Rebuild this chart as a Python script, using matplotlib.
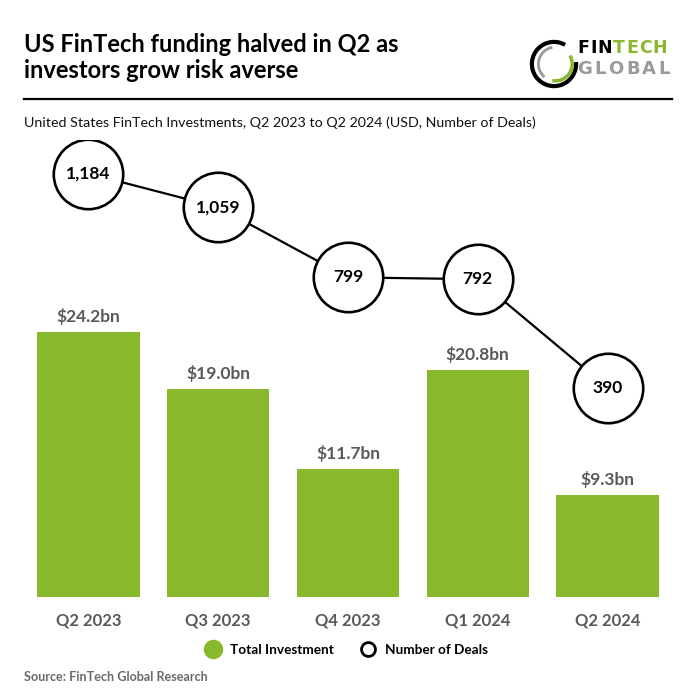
import matplotlib
matplotlib.use('Agg')
import matplotlib.pyplot as plt
from matplotlib.lines import Line2D
from matplotlib.patches import Arc

plt.rcParams['font.family'] = ['Lato', 'DejaVu Sans']

quarters = ['Q2 2023', 'Q3 2023', 'Q4 2023', 'Q1 2024', 'Q2 2024']
investment = [24.2, 19.0, 11.7, 20.8, 9.3]   # USD bn
deals = [1184, 1059, 799, 792, 390]

green = '#88b82b'
grey = '#595959'

W = H = 696
fig = plt.figure(figsize=(W / 100, H / 100), dpi=100, facecolor='white')
renderer = fig.canvas.get_renderer()

def fx(px):
    return px / W

def fy(py):
    return 1 - py / H

# main chart area, baseline at y=597px
ax = fig.add_axes([0, fy(597), 1, fy(140) - fy(597)])
x = list(range(len(quarters)))
ax.bar(x, investment, width=0.79, color=green, zorder=2)
ax.set_xlim(-0.682, 4.682)
ax.set_ylim(0, 41.8)
for s in ax.spines.values():
    s.set_visible(False)
ax.set_yticks([])
ax.set_xticks(x, quarters)
ax.tick_params(axis='x', length=0, pad=11, labelsize=12, labelcolor=grey)
for t in ax.get_xticklabels():
    t.set_fontweight('bold')
for xi, v in zip(x, investment):
    ax.annotate('$%.1fbn' % v, (xi, v), xytext=(0, 5), textcoords='offset points',
                ha='center', va='bottom', fontsize=12.5, fontweight='bold', color=grey)

# number of deals on a second scale
ax2 = ax.twinx()
ax2.set_ylim(-386.7, 1308.4)
ax2.set_yticks([])
for s in ax2.spines.values():
    s.set_visible(False)
ax2.plot(x, deals, color='black', lw=1.6, marker='o', markersize=50,
         mfc='white', mec='black', mew=1.9, zorder=3)
for xi, d in zip(x, deals):
    ax2.text(xi, d, f'{d:,}', ha='center', va='center', fontsize=12.5,
             fontweight='bold', color='black', zorder=4)

# title block
fig.text(fx(24), fy(52), 'US FinTech funding halved in Q2 as', fontsize=17,
         fontweight='bold', va='baseline', ha='left')
fig.text(fx(24), fy(78), 'investors grow risk averse', fontsize=17,
         fontweight='bold', va='baseline', ha='left')
fig.add_artist(Line2D([fx(24), fx(672)], [fy(99), fy(99)], color='black', lw=1.6))
fig.text(fx(24), fy(123), 'United States FinTech Investments, Q2 2023 to Q2 2024 (USD, Number of Deals)',
         fontsize=10.3, va='center', ha='left', color='#111111')

# logo
lax = fig.add_axes([fx(528), fy(90), fx(52), fx(52)])
lax.set_xlim(-1, 1)
lax.set_ylim(-1, 1)
lax.set_aspect('equal')
lax.axis('off')
lax.add_patch(Arc((0, 0), 1.7, 1.7, theta1=60, theta2=5, color='black', lw=3))
lax.add_patch(Arc((0.05, 0), 1.3, 1.3, theta1=-100, theta2=30, color=green, lw=2.5))
lax.add_patch(Arc((0.05, 0), 1.3, 1.3, theta1=100, theta2=230, color='#9a9a9a', lw=2))

def spaced(word, colors, xpx, ypx, size, gap):
    xx = xpx
    for ch, c in zip(word, colors):
        t = fig.text(fx(xx), fy(ypx), ch, fontsize=size, fontweight='bold',
                     family='DejaVu Sans', va='baseline', ha='left', color=c)
        xx += t.get_window_extent(renderer).width + gap

spaced('FINTECH', ['black'] * 3 + [green] * 4, 577, 53, 12.5, 1.0)
spaced('GLOBAL', ['#9a9a9a'] * 6, 577, 74, 13, 2.5)

# legend
handles = [Line2D([], [], ls='none', marker='o', markersize=13, mfc=green, mec=green),
           Line2D([], [], ls='none', marker='o', markersize=10, mfc='white', mec='black', mew=2)]
leg = fig.legend(handles, ['Total Investment', 'Number of Deals'], loc='center',
                 bbox_to_anchor=(fx(347), fy(650)), ncol=2, frameon=False, fontsize=9.8,
                 handlelength=1.0, handletextpad=0.75, columnspacing=2.0)
for t in leg.get_texts():
    t.set_fontweight('bold')

fig.text(fx(24), fy(677), 'Source: FinTech Global Research', fontsize=9.1,
         fontweight='bold', color='#6b6b6b', va='center', ha='left')

fig.savefig('out.png', dpi=100, facecolor='white')
